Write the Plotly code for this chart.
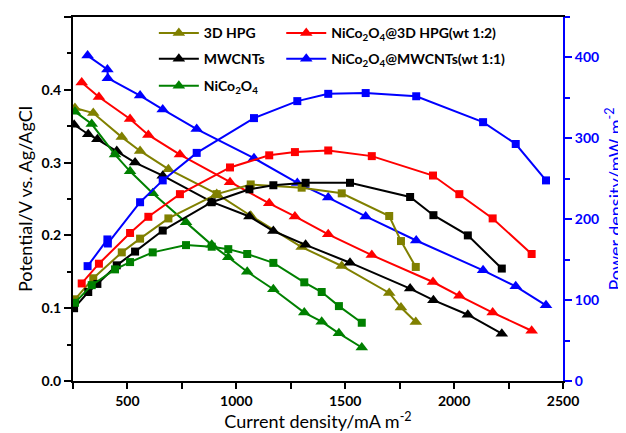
import plotly.graph_objects as go

# ---- data ----
x_hpg = [259, 343, 474, 558, 688, 910, 1066, 1300, 1484, 1702, 1756, 1824]
v_hpg = [0.375, 0.368, 0.335, 0.316, 0.291, 0.257, 0.227, 0.184, 0.158, 0.121, 0.101, 0.081]
p_hpg = [101, 127, 159, 176, 201, 231, 243, 239, 232, 204, 173, 141]

x_mw = [255, 320, 362, 451, 535, 662, 887, 1060, 1170, 1318, 1522, 1798, 1905, 2063, 2219]
v_mw = [0.352, 0.339, 0.332, 0.316, 0.300, 0.282, 0.246, 0.226, 0.206, 0.187, 0.1625, 0.127, 0.111, 0.091, 0.065]
p_mw = [90, 110, 120, 143, 160, 186, 221, 237, 242, 245, 245, 227.5, 205, 180, 139]

x_nc = [259, 336, 443, 512, 616, 769, 887, 963, 1050, 1170, 1312, 1392, 1471, 1576]
v_nc = [0.370, 0.353, 0.311, 0.288, 0.258, 0.218, 0.187, 0.170, 0.150, 0.126, 0.094, 0.0815, 0.0655, 0.046]
p_nc = [96.7, 118.5, 138, 147, 159, 168, 166, 163, 157, 146, 122, 110, 92.6, 72]

x_nchpg = [290, 369, 512, 596, 741, 971, 1151, 1269, 1422, 1622, 1903, 2024, 2177, 2356]
v_nchpg = [0.410, 0.390, 0.360, 0.338, 0.311, 0.273, 0.244, 0.226, 0.2015, 0.173, 0.136, 0.117, 0.094, 0.069]
p_nchpg = [120.6, 145, 183, 203, 231, 264, 279, 283, 285, 278, 254, 231, 201, 157]

x_ncmw = [317, 408, 410, 558, 662, 818, 1081, 1280, 1422, 1594, 1826, 2133, 2283, 2422]
v_ncmw = [0.447, 0.428, 0.416, 0.392, 0.373, 0.346, 0.306, 0.272, 0.252, 0.226, 0.193, 0.152, 0.130, 0.104]
p_ncmw = [142, 175, 170, 221, 248, 282, 325, 346, 355, 356, 352, 320, 293, 248]

names = ["3D HPG", "MWCNTs", "NiCo<sub>2</sub>O<sub>4</sub>",
         "NiCo<sub>2</sub>O<sub>4</sub>@3D HPG(wt 1:2)",
         "NiCo<sub>2</sub>O<sub>4</sub>@MWCNTs(wt 1:1)"]
colors = ["#808000", "#000000", "#008000", "#FF0000", "#0000FF"]
legends = ["legend", "legend2", "legend3", "legend4", "legend5"]

series = [(x_hpg, v_hpg, p_hpg), (x_mw, v_mw, p_mw), (x_nc, v_nc, p_nc),
          (x_nchpg, v_nchpg, p_nchpg), (x_ncmw, v_ncmw, p_ncmw)]

fig = go.Figure()
for (xs, vs, ps), nm, col, lg in zip(series, names, colors, legends):
    fig.add_trace(go.Scatter(x=xs, y=ps, yaxis="y2", mode="lines+markers",
                             line=dict(color=col, width=2),
                             marker=dict(symbol="square", size=8, color=col),
                             showlegend=False))
for (xs, vs, ps), nm, col, lg in zip(series, names, colors, legends):
    fig.add_trace(go.Scatter(x=xs, y=vs, mode="lines+markers", name=nm,
                             line=dict(color=col, width=2),
                             marker=dict(symbol="triangle-up", size=11, color=col),
                             legend=lg))

FONT = "Lato"
legfont = dict(family=FONT, size=14, color="black", weight="bold")
col1x, col2x = 0.165, 0.425
rows = [0.955, 0.884, 0.810]
leg_pos = [(col1x, rows[0]), (col1x, rows[1]), (col1x, rows[2]),
           (col2x, rows[0]), (col2x, rows[1])]
leg_layout = {}
for lg, (lx, ly) in zip(legends, leg_pos):
    leg_layout[lg] = dict(x=lx, y=ly, xanchor="left", yanchor="middle",
                          bgcolor="rgba(0,0,0,0)", font=legfont, itemwidth=40,
                          borderwidth=0)

# page body has an 8px margin, so the figure is sized to fit the window
fig.update_layout(
    width=618, height=425,
    margin=dict(l=65, r=63, t=9, b=52, autoexpand=False),
    plot_bgcolor="white", paper_bgcolor="white",
    font=dict(family=FONT, size=14, color="black"),
    xaxis=dict(range=[250, 2500], dtick=500, tick0=0, showgrid=False, zeroline=False,
               showline=True, linecolor="black", linewidth=2, mirror=True,
               ticks="outside", ticklen=6, tickwidth=2, tickcolor="black",
               tickfont=dict(family=FONT, size=14, color="black", weight="bold"),
               minor=dict(dtick=250, tick0=0, ticks="outside", ticklen=6, tickwidth=2, tickcolor="black"),
               title=dict(text="Current density/mA m<sup>-2</sup>", font=dict(family=FONT, size=18), standoff=4)),
    yaxis=dict(range=[0, 0.5], dtick=0.1, showgrid=False, zeroline=False,
               showline=True, linecolor="black", linewidth=2,
               ticks="outside", ticklen=7, tickwidth=2, tickcolor="black", tickformat=".1f",
               tickfont=dict(family=FONT, size=14, color="black", weight="bold"),
               minor=dict(dtick=0.05, ticks="outside", ticklen=4, tickwidth=2, tickcolor="black"),
               title=dict(text="Potential/V vs. Ag/AgCl", font=dict(family=FONT, size=18), standoff=4)),
    yaxis2=dict(range=[0, 450], dtick=100, overlaying="y", side="right", showgrid=False, zeroline=False,
                showline=True, linecolor="#0000FF", linewidth=2,
                ticks="outside", ticklen=7, tickwidth=2, tickcolor="#0000FF",
                tickfont=dict(family=FONT, size=14, color="#0000FF", weight="bold"),
                minor=dict(dtick=50, ticks="outside", ticklen=5, tickwidth=2, tickcolor="#0000FF"),
                title=dict(text="Power density/mW m<sup>-2</sup>", font=dict(family=FONT, size=18, color="#0000FF"), standoff=11)),
    **leg_layout,
)

fig.write_html("out.html")
